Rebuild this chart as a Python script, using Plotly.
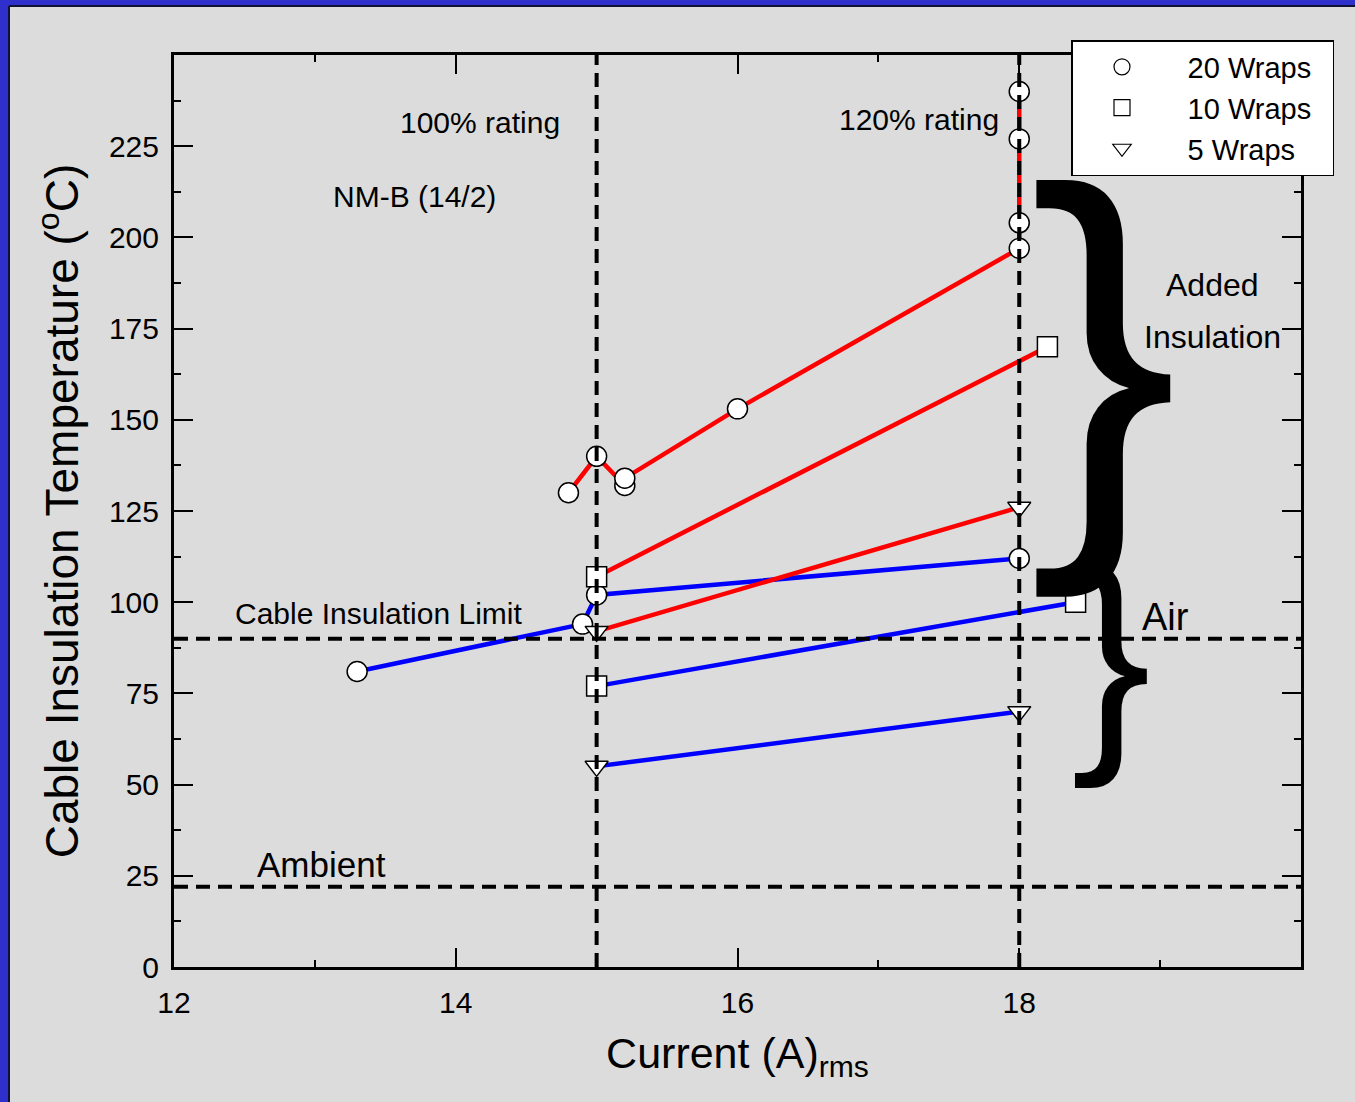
import plotly.graph_objects as go

# ---- axis ticks ----
x_ticks = [12, 14, 16, 18]
x_minor = [13, 15, 17, 19]
y_ticks = [0, 25, 50, 75, 100, 125, 150, 175, 200, 225]
y_minor = [12.5, 37.5, 62.5, 87.5, 112.5, 137.5, 162.5, 187.5, 212.5, 237.5]

# ---- data: Added insulation (red) ----
red20_x = [14.8, 15.0, 15.2, 15.2, 16.0, 18.0, 18.0, 18.0, 18.0]
red20_y = [130, 140, 132, 134, 153, 197, 204, 227, 240]
red10_x = [15.0, 18.2]
red10_y = [107, 170]
red5_x = [15.0, 18.0]
red5_y = [92, 126]

# ---- data: Air (blue) ----
blue20_x = [13.3, 14.9, 15.0, 18.0]
blue20_y = [81, 94, 102, 112]
blue10_x = [15.0, 18.4]
blue10_y = [77, 100]
blue5_x = [15.0, 18.0]
blue5_y = [55, 70]

# ---- reference lines ----
rating_x = [15, 18]
limit_y = [90, 22]

series_names = ["20 Wraps", "10 Wraps", "5 Wraps"]
symbols = ["circle", "square", "triangle-down"]

FONT = "Liberation Sans, Arial, sans-serif"
BG = "#dcdcdc"

fig = go.Figure()

def add_series(xs, ys, color, symbol):
    fig.add_trace(go.Scatter(
        x=xs, y=ys, mode="lines+markers",
        line=dict(color=color, width=4.5),
        marker=dict(symbol=symbol, size=20, color="white",
                    line=dict(color="black", width=1.5)),
        showlegend=False, hoverinfo="x+y"))

add_series(blue20_x, blue20_y, "#0000ff", "circle")
add_series(blue10_x, blue10_y, "#0000ff", "square")
add_series(blue5_x, blue5_y, "#0000ff", "triangle-down")
add_series(red20_x, red20_y, "#ff0000", "circle")
add_series(red10_x, red10_y, "#ff0000", "square")
add_series(red5_x, red5_y, "#ff0000", "triangle-down")

for name, sym in zip(series_names, symbols):
    fig.add_trace(go.Scatter(
        x=[None], y=[None], mode="markers",
        name="&nbsp;&nbsp;" + name + "&nbsp;&nbsp;",
        marker=dict(symbol=sym, size=20, color="white",
                    line=dict(color="black", width=1.2))))

shapes = []
for xv in rating_x:
    shapes.append(dict(type="line", xref="x", yref="y", x0=xv, x1=xv, y0=0, y1=250,
                       line=dict(color="black", width=4, dash="14px,8px"), layer="above"))
for yv in limit_y:
    shapes.append(dict(type="line", xref="x", yref="y", x0=12, x1=20, y0=yv, y1=yv,
                       line=dict(color="black", width=4, dash="14px,8px"), layer="above"))

# blue frame at top and left (pixel -> paper conversion)
L, R, T, B = 174, 54, 55, 135
W, H = 1355, 1102
pw, ph = W - L - R, H - T - B
def px(x):
    return (x - L) / pw
def py(y):
    return (H - B - y) / ph
shapes.append(dict(type="rect", xref="paper", yref="paper", x0=px(0), x1=px(9), y0=py(H), y1=py(0),
                   fillcolor="#2f2fcc", line=dict(width=0), layer="above"))
shapes.append(dict(type="rect", xref="paper", yref="paper", x0=px(0), x1=px(W), y0=py(6), y1=py(0),
                   fillcolor="#2f2fcc", line=dict(width=0), layer="above"))
shapes.append(dict(type="line", xref="paper", yref="paper", x0=px(9), x1=px(9), y0=py(H), y1=py(6),
                   line=dict(color="#111133", width=2), layer="above"))
shapes.append(dict(type="line", xref="paper", yref="paper", x0=px(9), x1=px(W), y0=py(6), y1=py(6),
                   line=dict(color="#111133", width=2), layer="above"))

def ann(text, x, y, size, **kw):
    d = dict(text=text, x=x, y=y, xref="x", yref="y", showarrow=False,
             font=dict(family=FONT, size=size, color="black"))
    d.update(kw)
    return d

annotations = [
    ann("100% rating", 14.17, 231.4, 30),
    ann("120% rating", 17.29, 232.2, 30),
    ann("NM-B (14/2)", 13.71, 211.1, 30),
    ann("Cable Insulation Limit", 13.45, 96.8, 30),
    ann("Ambient", 13.05, 28.0, 35),
    ann("Air", 19.04, 95.9, 38),
    ann("Added", 19.37, 187.0, 32),
    ann("Insulation", 19.37, 172.7, 32),
    ann("}", 18.60, 169.0, 447),
    ann("}", 18.65, 85.6, 240),
]

fig.update_layout(
    width=W, height=H,
    margin=dict(l=L, r=R, t=T, b=B),
    paper_bgcolor=BG, plot_bgcolor=BG,
    font=dict(family=FONT, color="black"),
    shapes=shapes, annotations=annotations,
    legend=dict(x=px(1071), y=py(40), xanchor="left", yanchor="top",
                bgcolor="white", bordercolor="black", borderwidth=1.5,
                font=dict(family=FONT, size=29, color="black"),
                itemwidth=89),
    xaxis=dict(range=[12, 20], tickmode="array", tickvals=x_ticks,
               ticks="inside", ticklen=19, tickwidth=1.5, tickcolor="black",
               minor=dict(tickmode="array", tickvals=x_minor, ticks="inside",
                          ticklen=7, tickwidth=1.5, tickcolor="black"),
               showline=True, linecolor="black", linewidth=3, mirror="ticks",
               showgrid=False, zeroline=False, ticklabelstandoff=7,
               tickfont=dict(family=FONT, size=30, color="black"),
               title=dict(text="Current (A)<sub>rms</sub>", standoff=20,
                          font=dict(family=FONT, size=43, color="black"))),
    yaxis=dict(range=[0, 250], tickmode="array", tickvals=y_ticks,
               ticks="inside", ticklen=19, tickwidth=1.5, tickcolor="black",
               minor=dict(tickmode="array", tickvals=y_minor, ticks="inside",
                          ticklen=7, tickwidth=1.5, tickcolor="black"),
               showline=True, linecolor="black", linewidth=3, mirror="ticks",
               showgrid=False, zeroline=False, ticklabelstandoff=6,
               tickfont=dict(family=FONT, size=30, color="black"),
               title=dict(text="Cable Insulation Temperature (<sup>o</sup>C)", standoff=16,
                          font=dict(family=FONT, size=46, color="black"))),
)

fig.write_html("out.html", config={"displayModeBar": False},
               post_script="document.body.style.margin='0';document.body.style.overflow='hidden';")
